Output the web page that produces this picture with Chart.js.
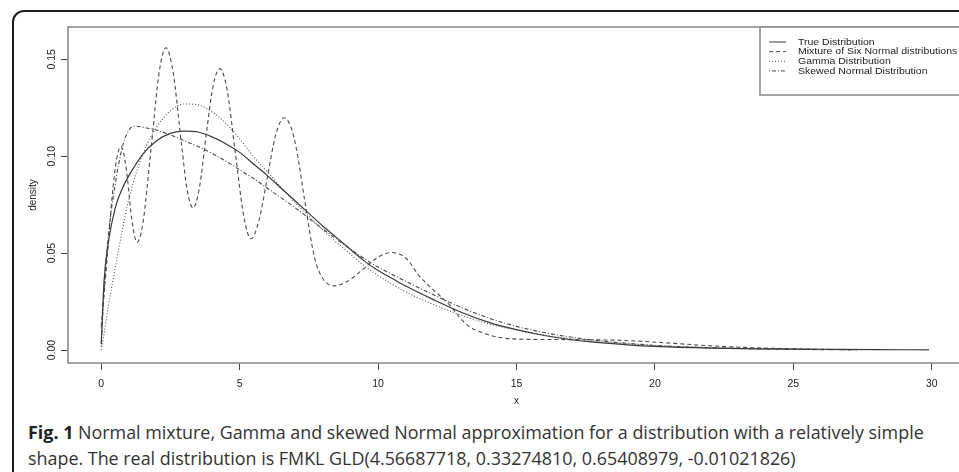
<!DOCTYPE html>
<html>
<head>
<meta charset="utf-8">
<script src="https://cdn.jsdelivr.net/npm/chart.js@4.4.1/dist/chart.umd.min.js"></script>
<style>
  html, body { margin: 0; padding: 0; background: #fff; overflow: hidden; }
  #page { position: relative; width: 959px; height: 472px; overflow: hidden; }
  #frame { position: absolute; left: 12px; top: 10px; width: 1000px; height: 520px;
           border: 2px solid #1e1e1e; border-radius: 12px; box-sizing: border-box; }
  #plot { position: absolute; left: 0; top: 0; }
  #caption { position: absolute; left: 28px; top: 419px; width: 940px;
             font-family: "Open Sans", "Noto Sans", sans-serif; font-size: 17.9px;
             line-height: 26px; color: #333; white-space: nowrap; }
  #caption b { color: #222; }
</style>
</head>
<body>
<div id="page">
  <div id="frame"></div>
  <canvas id="plot" width="980" height="416"></canvas>
  <div id="caption"><b>Fig. 1</b> Normal mixture, Gamma and skewed Normal approximation for a distribution with a relatively simple<br>shape. The real distribution is FMKL GLD(4.56687718, 0.33274810, 0.65408979, -0.01021826)</div>
</div>
<script>
// values
const seriesNames = ['True Distribution', 'Mixture of Six Normal distributions', 'Gamma Distribution', 'Skewed Normal Distribution'];
const xTicks = [0, 5, 10, 15, 20, 25, 30];
const yTicks = [0, 0.05, 0.10, 0.15];
const yTickLabels = ['0.00', '0.05', '0.10', '0.15'];

const trueX = [0, 0.1, 0.25, 0.5, 0.75, 1, 1.5, 2, 2.5, 3, 3.5, 4, 4.5, 5, 5.5, 6, 6.5, 7, 7.5, 8,
  8.5, 9, 9.5, 10, 10.5, 11, 12, 13, 14, 15, 16, 17, 18, 19, 20, 22, 24, 26, 28, 29.9];
const trueY = [0.003, 0.035, 0.055, 0.073, 0.083, 0.090, 0.101, 0.108, 0.1118, 0.113, 0.1125, 0.110, 0.1065, 0.102, 0.096, 0.090, 0.0835, 0.077, 0.0705, 0.064,
  0.058, 0.052, 0.046, 0.041, 0.037, 0.033, 0.026, 0.0195, 0.0143, 0.0105, 0.0075, 0.0053, 0.0038, 0.0027, 0.0019, 0.001, 0.0006, 0.0004, 0.0002, 0.0001];

const mixX = [0, 0.2, 0.4, 0.55, 0.71, 0.9, 1.1, 1.29, 1.5, 1.8, 2.1, 2.34, 2.6, 2.9, 3.1, 3.32, 3.55, 3.8, 4.05, 4.29,
  4.55, 4.85, 5.15, 5.41, 5.7, 6.0, 6.3, 6.61, 6.9, 7.1, 7.34, 7.7, 8.0, 8.42, 8.9, 9.4, 9.9, 10.47, 11.0, 11.5,
  12.0, 12.58, 13.0, 13.3, 13.66, 14.0, 14.5, 15.5, 16.5, 17.5, 18.5, 19.5, 20.5, 22, 23.5, 25, 27.3];
const mixY = [0.012, 0.045, 0.080, 0.098, 0.105, 0.094, 0.068, 0.0555, 0.065, 0.104, 0.144, 0.156, 0.143, 0.106, 0.083, 0.0733, 0.084, 0.112, 0.137, 0.1452,
  0.134, 0.101, 0.069, 0.0574, 0.067, 0.089, 0.111, 0.1199, 0.113, 0.100, 0.078, 0.048, 0.037, 0.0331, 0.0355, 0.041, 0.047, 0.0503, 0.0475, 0.038,
  0.031, 0.0233, 0.016, 0.012, 0.0095, 0.0078, 0.0062, 0.0055, 0.0054, 0.0053, 0.0051, 0.0045, 0.0036, 0.0022, 0.0012, 0.0006, 0.0001];

const gammaX = [0, 0.1, 0.25, 0.5, 0.75, 1, 1.5, 2, 2.5, 3, 3.5, 4, 4.5, 5, 5.5, 6, 6.5, 7, 7.5, 8,
  8.5, 9, 9.5, 10, 11, 12, 13, 14, 15, 16, 17, 18, 20, 22, 24, 26, 27.3];
const gammaY = [0, 0.008, 0.022, 0.042, 0.061, 0.078, 0.101, 0.115, 0.1235, 0.127, 0.1265, 0.123, 0.117, 0.109, 0.100, 0.092, 0.084, 0.076, 0.069, 0.062,
  0.0555, 0.0495, 0.0435, 0.0385, 0.030, 0.0235, 0.018, 0.0135, 0.0103, 0.0077, 0.0058, 0.0043, 0.0023, 0.0012, 0.0006, 0.0003, 0.0002];

const skewX = [0, 0.1, 0.25, 0.5, 0.75, 1, 1.25, 1.5, 2, 2.5, 3, 3.5, 4, 4.5, 5, 5.5, 6, 6.5, 7, 7.5,
  8, 8.5, 9, 9.5, 10, 11, 12, 13, 14, 15, 16, 17, 18, 20, 22, 24, 26, 27.3];
const skewY = [0.002, 0.03, 0.058, 0.085, 0.104, 0.1135, 0.1155, 0.115, 0.1135, 0.111, 0.108, 0.105, 0.1015, 0.0975, 0.093, 0.0885, 0.0835, 0.0785, 0.0735, 0.068,
  0.0625, 0.0572, 0.052, 0.0472, 0.0428, 0.0355, 0.0285, 0.022, 0.0165, 0.0122, 0.009, 0.0066, 0.0048, 0.0024, 0.0012, 0.0005, 0.0002, 0.0001];

const pts = (xs, ys) => xs.map((x, i) => ({ x: x, y: ys[i] }));

const lineBase = { fill: false, pointRadius: 0, cubicInterpolationMode: 'monotone', borderJoinStyle: 'round' };
const axisFont = '"Liberation Sans", Arial, sans-serif';

// plot box, axis labels and the R-style legend
const rDecor = {
  id: 'rDecor',
  afterDraw(chart) {
    const ctx = chart.ctx;
    const a = chart.chartArea;
    const xs = chart.scales.x;
    const ys = chart.scales.y;
    ctx.save();
    ctx.strokeStyle = '#8c8c8c';
    ctx.lineWidth = 1.6;
    ctx.strokeRect(a.left, a.top, a.right - a.left, a.bottom - a.top);

    ctx.fillStyle = '#222';
    ctx.textAlign = 'center';
    ctx.textBaseline = 'middle';
    ctx.font = '10.5px ' + axisFont;
    xTicks.forEach(v => ctx.fillText(String(v), xs.getPixelForValue(v), a.bottom + 21));
    ctx.font = '10px ' + axisFont;
    ctx.fillText('x', (a.left + a.right) / 2, a.bottom + 38);

    ctx.font = '10.5px ' + axisFont;
    yTicks.forEach((v, i) => {
      ctx.save();
      ctx.translate(52, ys.getPixelForValue(v));
      ctx.rotate(-Math.PI / 2);
      ctx.fillText(yTickLabels[i], 0, 0);
      ctx.restore();
    });
    ctx.save();
    ctx.font = '10px ' + axisFont;
    ctx.translate(33, (a.top + a.bottom) / 2);
    ctx.rotate(-Math.PI / 2);
    ctx.fillText('density', 0, 0);
    ctx.restore();

    // legend
    const lx = 760, ly = a.top, lh = 95 - a.top;
    ctx.fillStyle = '#fff';
    ctx.fillRect(lx, ly, a.right - lx, lh);
    ctx.strokeRect(lx, ly, a.right - lx, lh);
    ctx.font = '9.4px ' + axisFont;
    ctx.textAlign = 'left';
    chart.data.datasets.forEach((ds, i) => {
      const y = 42 + i * 9.65;
      ctx.strokeStyle = ds.borderColor;
      ctx.lineWidth = 1;
      ctx.setLineDash(ds.borderDash || []);
      ctx.beginPath();
      ctx.moveTo(769, y);
      ctx.lineTo(786, y);
      ctx.stroke();
      ctx.setLineDash([]);
      ctx.fillStyle = '#222';
      ctx.save();
      ctx.translate(798, y);
      ctx.scale(1.12, 1);
      ctx.fillText(ds.label, 0, 0);
      ctx.restore();
    });
    ctx.restore();
  }
};

new Chart(document.getElementById('plot'), {
  type: 'line',
  data: {
    datasets: [
      { ...lineBase, label: seriesNames[0], data: pts(trueX, trueY), borderColor: '#3a3a3a', borderWidth: 1.2 },
      { ...lineBase, label: seriesNames[1], data: pts(mixX, mixY), borderColor: '#4a4a4a', borderWidth: 1.1, borderDash: [4, 3] },
      { ...lineBase, label: seriesNames[2], data: pts(gammaX, gammaY), borderColor: '#555', borderWidth: 1.1, borderDash: [1, 2] },
      { ...lineBase, label: seriesNames[3], data: pts(skewX, skewY), borderColor: '#4a4a4a', borderWidth: 1.1, borderDash: [1, 2, 4, 2] }
    ]
  },
  options: {
    responsive: false,
    animation: false,
    layout: { padding: { left: 68, top: 27, right: 15, bottom: 53 } },
    plugins: { legend: { display: false }, tooltip: { enabled: false } },
    scales: {
      x: {
        type: 'linear', min: -1.2, max: 31.2,
        afterBuildTicks: s => { s.ticks = xTicks.map(v => ({ value: v })); },
        afterFit: s => { s.height = 0; },
        grid: { drawOnChartArea: false, drawTicks: true, tickLength: 7, color: '#444', lineWidth: 1 },
        border: { display: false },
        ticks: { display: false }
      },
      y: {
        type: 'linear', min: -0.0067, max: 0.1667,
        afterBuildTicks: s => { s.ticks = yTicks.map(v => ({ value: v })); },
        afterFit: s => { s.width = 0; },
        grid: { drawOnChartArea: false, drawTicks: true, tickLength: 7, color: '#444', lineWidth: 1 },
        border: { display: false },
        ticks: { display: false }
      }
    }
  },
  plugins: [rDecor]
});
</script>
</body>
</html>
